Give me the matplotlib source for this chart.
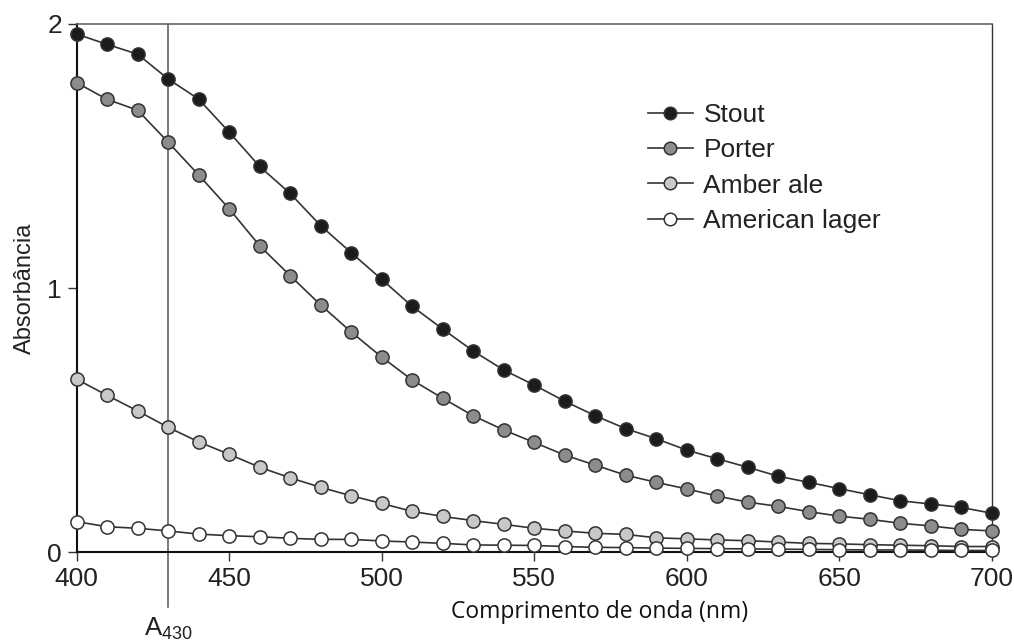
import matplotlib
matplotlib.use("Agg")
from matplotlib import pyplot as plt

plt.rcParams['font.family'] = ['Liberation Sans', 'DejaVu Sans']
plt.rcParams['mathtext.default'] = 'regular'

wavelength = list(range(400, 701, 10))

stout = [1.961, 1.922, 1.885, 1.791, 1.715, 1.590, 1.460, 1.358, 1.236, 1.134,
         1.033, 0.931, 0.845, 0.762, 0.690, 0.633, 0.572, 0.517, 0.468, 0.430,
         0.387, 0.354, 0.322, 0.288, 0.265, 0.241, 0.218, 0.195, 0.183, 0.170, 0.148]
porter = [1.777, 1.714, 1.673, 1.552, 1.428, 1.300, 1.160, 1.047, 0.936, 0.834,
          0.739, 0.652, 0.583, 0.517, 0.463, 0.416, 0.368, 0.330, 0.292, 0.265,
          0.240, 0.213, 0.190, 0.174, 0.154, 0.137, 0.125, 0.110, 0.100, 0.087, 0.081]
amber_ale = [0.655, 0.594, 0.535, 0.473, 0.418, 0.371, 0.322, 0.282, 0.246, 0.214,
             0.185, 0.155, 0.136, 0.120, 0.106, 0.091, 0.081, 0.072, 0.068, 0.055,
             0.051, 0.047, 0.044, 0.039, 0.034, 0.032, 0.029, 0.027, 0.025, 0.022, 0.022]
american_lager = [0.116, 0.097, 0.091, 0.081, 0.069, 0.063, 0.059, 0.053, 0.049, 0.049,
                  0.043, 0.039, 0.034, 0.028, 0.027, 0.026, 0.022, 0.019, 0.018, 0.016,
                  0.015, 0.014, 0.013, 0.012, 0.011, 0.010, 0.009, 0.009, 0.008, 0.007, 0.007]

series = [('Stout', stout, '#1c1c1c'),
          ('Porter', porter, '#8c8c8c'),
          ('Amber ale', amber_ale, '#c8c8c8'),
          ('American lager', american_lager, '#ffffff')]

fig = plt.figure(figsize=(10.14, 6.43), dpi=100)
ax = fig.add_axes([0.0756, 0.141, 0.9024, 0.822])

for name, vals, fill in series:
    ax.plot(wavelength, vals, color='#333333', linewidth=1.2, marker='o',
            markersize=9.5, markerfacecolor=fill, markeredgecolor='#333333',
            markeredgewidth=1.1, label=name, clip_on=False, zorder=3)

# A430 reference line, running below the axis
ax.axvline(430, ymin=-0.103, ymax=1, color='#555555', linewidth=1.1,
           clip_on=False, zorder=2)
ax.text(430, -0.29, r'A$_{430}$', ha='center', va='center', fontsize=18.5,
        color='#222222')

ax.set_xlim(400, 700)
ax.set_ylim(0, 2)
ax.set_xticks([400, 450, 500, 550, 600, 650, 700])
ax.set_yticks([0, 1, 2])
ax.tick_params(direction='out', length=6.5, width=1.0, colors='#333333',
               labelcolor='#222222', labelsize=19, pad=4)

ax.spines['left'].set_linewidth(1.5)
ax.spines['bottom'].set_linewidth(1.5)
ax.spines['left'].set_color('#111111')
ax.spines['bottom'].set_color('#111111')
ax.spines['top'].set_color('#666666')
ax.spines['top'].set_linewidth(1.2)
ax.spines['right'].set_color('#333333')
ax.spines['right'].set_linewidth(1.0)

ax.set_ylabel('Absorbância', fontsize=17, color='#222222', va='center')
ax.yaxis.set_label_coords(-0.057, 0.5)
ax.set_xlabel('Comprimento de onda (nm)', fontsize=16.5, family='Open Sans',
              color='#111111', va='center')
ax.xaxis.set_label_coords(0.572, -0.112)

ax.legend(loc='upper left', bbox_to_anchor=(648 / 1014, 1 - 103 / 643),
          bbox_transform=fig.transFigure, frameon=False, fontsize=19,
          handlelength=1.7, handletextpad=0.4, labelspacing=0.43,
          markerscale=0.95, borderpad=0, borderaxespad=0, labelcolor='#222222')

plt.savefig('out.png', dpi=100)
